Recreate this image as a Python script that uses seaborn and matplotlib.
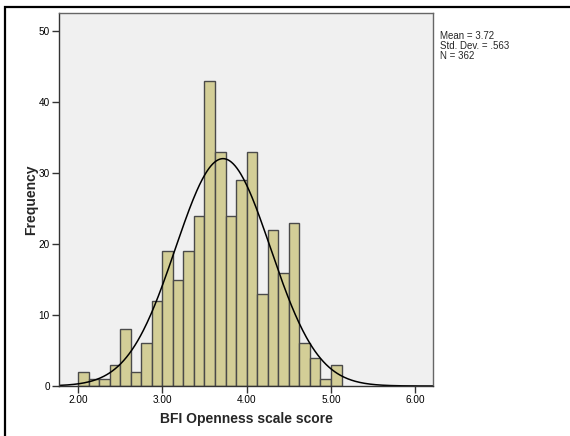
import numpy as np
import pandas as pd
import matplotlib
matplotlib.use("Agg")
import matplotlib.pyplot as plt
import seaborn as sns
from matplotlib.patches import Rectangle

# ---- data ----
bin_starts = [2.000, 2.125, 2.250, 2.375, 2.500, 2.625, 2.750, 2.875,
              3.000, 3.125, 3.250, 3.375, 3.500, 3.625, 3.750, 3.875,
              4.000, 4.125, 4.250, 4.375, 4.500, 4.625, 4.750, 4.875, 5.000]
counts = [2, 1, 1, 3, 8, 2, 6, 12,
          19, 15, 19, 24, 43, 33, 24, 29,
          33, 13, 22, 16, 23, 6, 4, 1, 3]
bin_width = 0.125
mean_val = 3.72
sd_val = 0.563
n_val = 362
x_ticks = [2.0, 3.0, 4.0, 5.0, 6.0]
x_tick_labels = ["2.00", "3.00", "4.00", "5.00", "6.00"]
y_ticks = [0, 10, 20, 30, 40, 50]
stats_text = "Mean = 3.72\nStd. Dev. = .563\nN = 362"
x_label = "BFI Openness scale score"
y_label = "Frequency"

sns.set_theme(style="white")
plt.rcParams["font.family"] = ["Liberation Sans", "DejaVu Sans"]

fig = plt.figure(figsize=(5.7, 4.36), dpi=100)
ax = fig.add_axes([59/570, 1-386/436, (433-59)/570, (386-13)/436])
ax.set_facecolor("#F0F0F0")

df = pd.DataFrame({"score": [b + bin_width/2 for b in bin_starts],
                   "count": [float(c) for c in counts]})
edges = [bin_starts[0] + i*bin_width for i in range(len(bin_starts) + 1)]
sns.histplot(data=df, x="score", weights="count", bins=edges, ax=ax,
             color="#D3CE97", edgecolor="#4a4a4a", linewidth=1.0, alpha=1.0)

xs = np.linspace(1.775, 6.21, 400)
ys = n_val * bin_width / (sd_val * np.sqrt(2*np.pi)) * np.exp(-0.5*((xs-mean_val)/sd_val)**2)
sns.lineplot(x=xs, y=ys, ax=ax, color="black", linewidth=1.1)

ax.set_xlim(1.775, 6.21)
ax.set_ylim(0, 52.6)
ax.set_xticks(x_ticks)
ax.set_xticklabels(x_tick_labels)
ax.set_yticks(y_ticks)
ax.tick_params(axis="both", which="both", direction="out", length=5, width=1,
               color="#333333", labelsize=7.2, labelcolor="black", pad=1.5,
               bottom=True, left=True, top=False, right=False)
for s in ax.spines.values():
    s.set_color("#333333")
    s.set_linewidth(1.0)
ax.spines["top"].set_color("#666666")
ax.spines["right"].set_color("#666666")

ax.set_xlabel(x_label, fontsize=10, fontweight="bold", labelpad=5)
ax.set_ylabel(y_label, fontsize=10, fontweight="bold", labelpad=0.5)

fig.text(440/570, 1-31/436, stats_text, fontsize=7, va="top", ha="left",
         linespacing=1.0)

# outer frame (top and left edges visible)
fig.patches.append(Rectangle((5/570, -0.1), 1.2, (1-7/436)+0.1,
                             transform=fig.transFigure, fill=False,
                             edgecolor="black", linewidth=1.6))

fig.savefig("out.png", dpi=100)
